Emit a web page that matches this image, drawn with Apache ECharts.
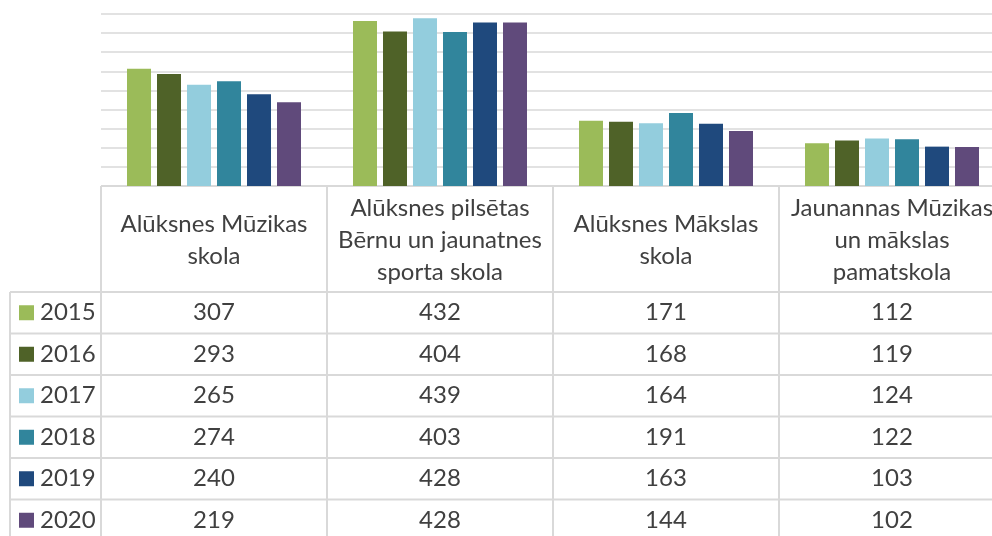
<!DOCTYPE html>
<html>
<head>
<meta charset="utf-8">
<script src="https://cdn.jsdelivr.net/npm/echarts@6/dist/echarts.min.js"></script>
<style>
  html, body { margin: 0; padding: 0; background: #fff; }
  #chart { width: 992px; height: 536px; }
</style>
</head>
<body>
<div id="chart"></div>
<script>
// categories (schools) and per-year values
const schools = [
  "Alūksnes Mūzikas\nskola",
  "Alūksnes pilsētas\nBērnu un jaunatnes\nsporta skola",
  "Alūksnes Mākslas\nskola",
  "Jaunannas Mūzikas\nun mākslas\npamatskola",
];
const years = ["2015", "2016", "2017", "2018", "2019", "2020"];
const v2015 = [307, 432, 171, 112];
const v2016 = [293, 404, 168, 119];
const v2017 = [265, 439, 164, 124];
const v2018 = [274, 403, 191, 122];
const v2019 = [240, 428, 163, 103];
const v2020 = [219, 428, 144, 102];
const values = [v2015, v2016, v2017, v2018, v2019, v2020];
const colors = ["#9bbb59", "#4f6228", "#93cddd", "#31859c", "#1f497d", "#604a7b"];

const lineColor = "#d9d9d9";
const textColor = "#404040";
const font = "Lato";

const chart = echarts.init(document.getElementById("chart"));

const series = years.map((y, i) => {
  return {
    name: y,
    type: "bar",
    data: values[i],
    barWidth: 24,
    barGap: "25%",
    itemStyle: { color: colors[i] },
  };
});

chart.setOption({
  animation: false,
  grid: {
    left: 101,
    top: 14,
    width: 904,
    height: 172,
    containLabel: false,
    outerBoundsMode: "none",
  },
  xAxis: {
    type: "category",
    data: schools,
    axisLine: { show: false },
    axisTick: { show: false },
    axisLabel: { show: false },
  },
  yAxis: {
    type: "value",
    min: 0,
    max: 450,
    interval: 50,
    axisLine: { show: false },
    axisTick: { show: false },
    axisLabel: { show: false },
    splitLine: { lineStyle: { color: lineColor, width: 1.5 } },
  },
  series: series,
});

// data table under the plot, aligned to the category bands
function buildTable() {
  const c0 = chart.convertToPixel({ xAxisIndex: 0 }, 0);
  const c1 = chart.convertToPixel({ xAxisIndex: 0 }, 1);
  const band = c1 - c0;
  const top = chart.convertToPixel({ yAxisIndex: 0 }, 0);
  const headH = 106;
  const rowH = 41.5;
  const legendLeft = 10;
  const right = 1010;
  const bottom = 540;
  const els = [];
  const line = (x1, y1, x2, y2) => {
    els.push({
      type: "line",
      shape: { x1, y1, x2, y2 },
      style: { stroke: lineColor, lineWidth: 2 },
      silent: true,
    });
  };
  const txt = (text, x, y, align) => {
    els.push({
      type: "text",
      style: {
        text, x, y,
        align: align || "center",
        verticalAlign: "middle",
        fill: textColor,
        fontFamily: font,
        fontSize: 24,
        lineHeight: 32,
      },
      silent: true,
    });
  };
  const rowTop = top + headH;
  // header top line
  line(c0 - band / 2, top, right, top);
  // column lines
  for (let k = 0; k <= schools.length; k++) {
    const x = c0 - band / 2 + k * band;
    line(x, top, x, bottom);
  }
  // legend column left edge
  line(legendLeft, rowTop, legendLeft, bottom);
  // row lines
  for (let r = 0; r < years.length; r++) {
    line(legendLeft, rowTop + r * rowH, right, rowTop + r * rowH);
  }
  // header texts
  schools.forEach((s, k) => {
    txt(s, c0 + k * band, top + headH / 2 + 1);
  });
  // rows
  years.forEach((y, r) => {
    const cy = rowTop + r * rowH + rowH / 2;
    els.push({
      type: "rect",
      shape: { x: 19, y: cy - 7.5, width: 15, height: 15 },
      style: { fill: colors[r] },
      silent: true,
    });
    txt(y, 40, cy, "left");
    values[r].forEach((v, k) => {
      txt(String(v), c0 + k * band, cy);
    });
  });
  chart.setOption({ graphic: { elements: els } });
}
buildTable();
</script>
</body>
</html>
